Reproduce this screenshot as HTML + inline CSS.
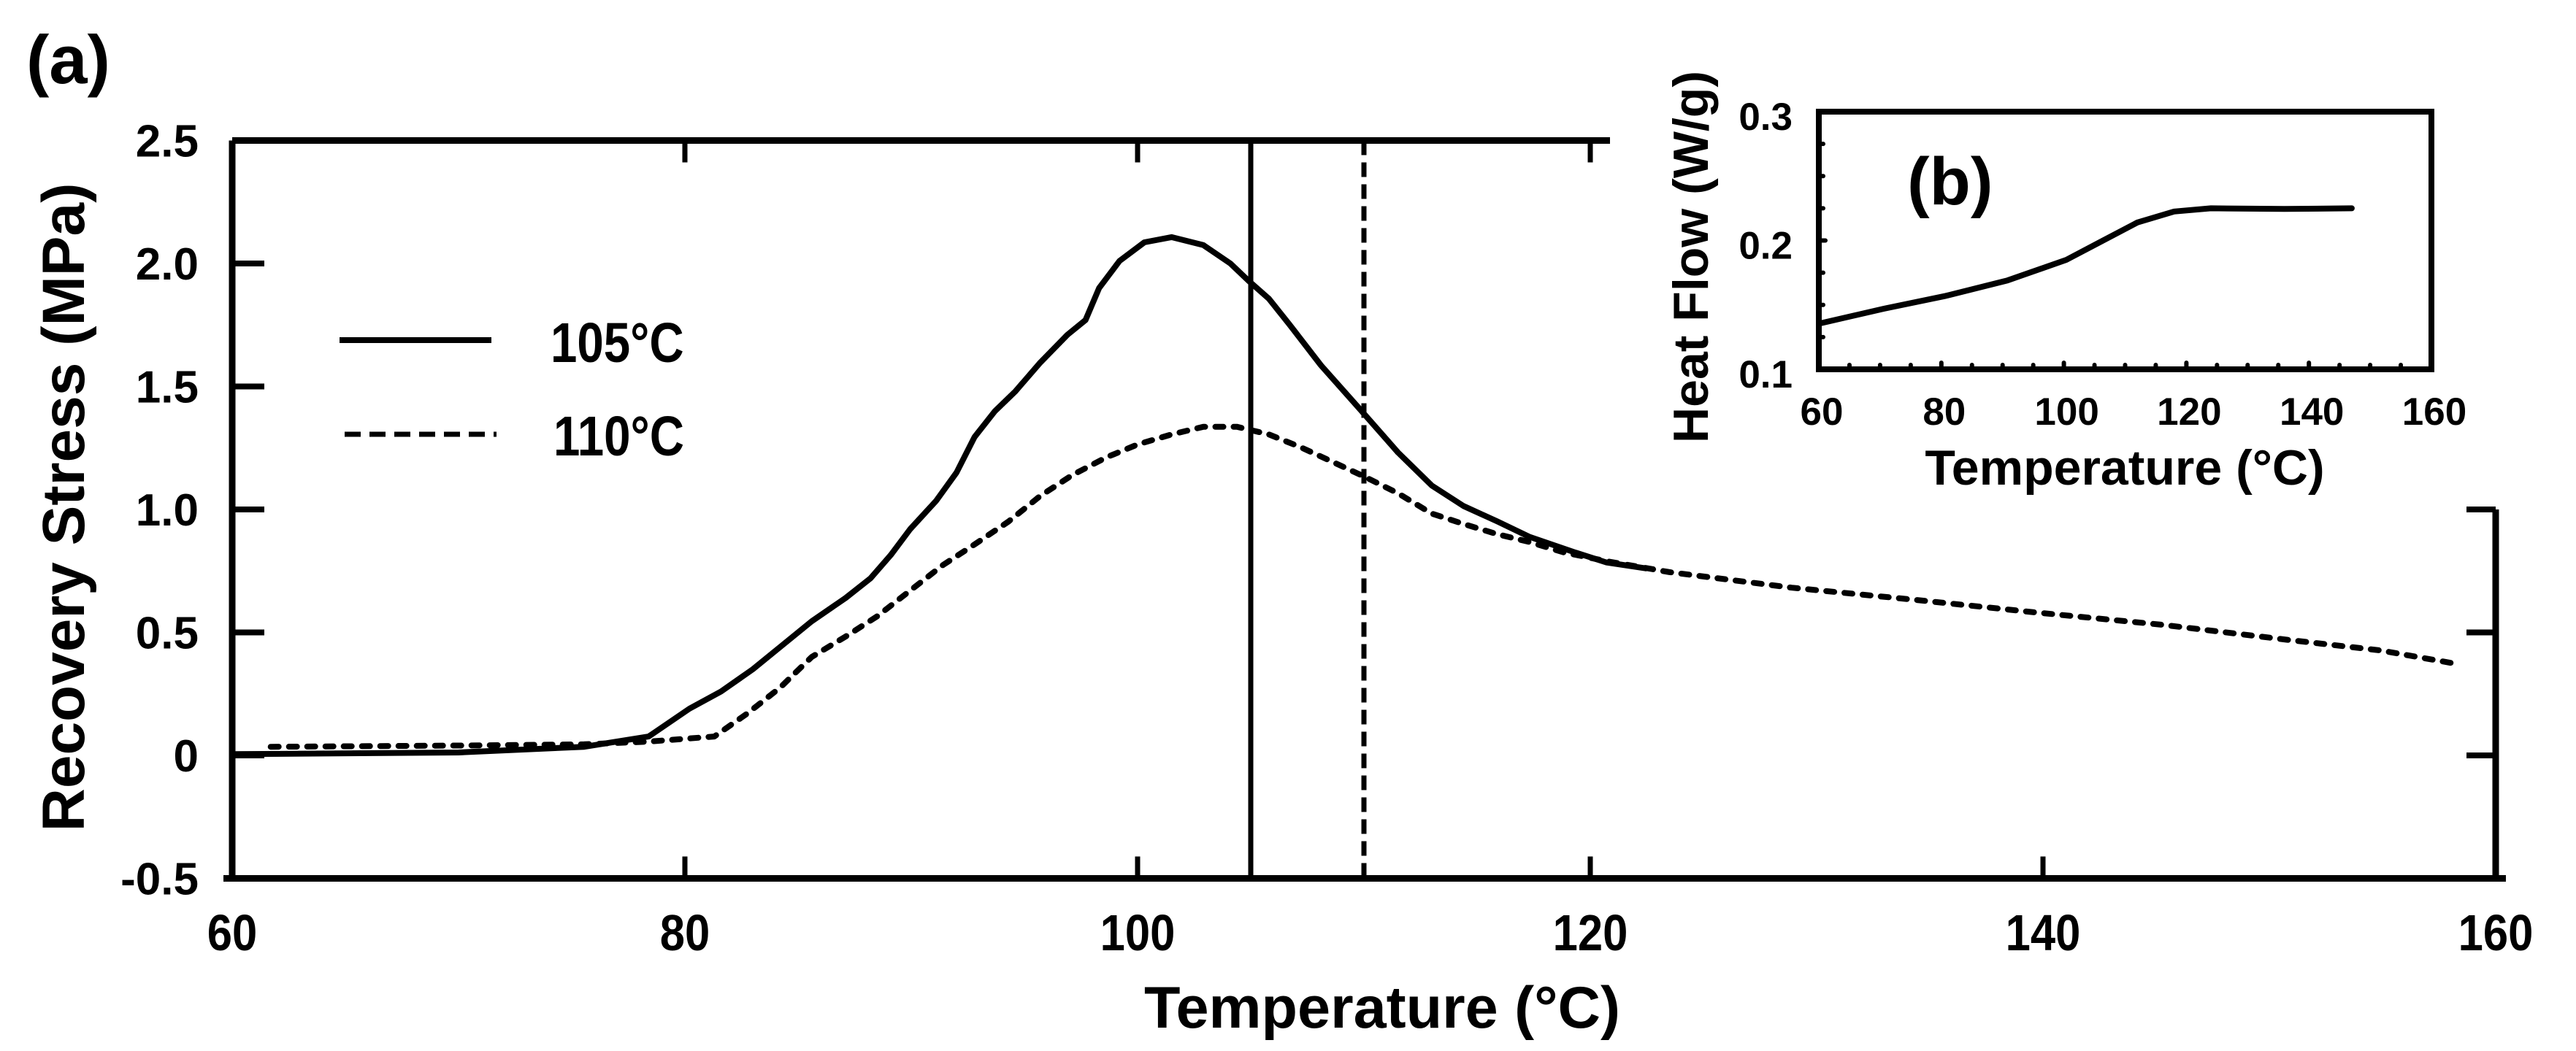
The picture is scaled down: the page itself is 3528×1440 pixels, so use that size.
<!DOCTYPE html>
<html><head><meta charset="utf-8"><style>
html,body{margin:0;padding:0;background:#fff;}
svg{display:block;font-family:"Liberation Sans",Arial,sans-serif;font-weight:bold;}
</style></head><body>
<svg id="chart" width="3528" height="1440" viewBox="0 0 3528 1440" xmlns="http://www.w3.org/2000/svg">
<g id="main"></g>
<g id="inset"></g>
</svg>
<script>
// ---- main chart data ----
const xTicks = [60, 80, 100, 120, 140, 160];
const yTicks = [-0.5, 0, 0.5, 1.0, 1.5, 2.0, 2.5];
const yTickLabels = ["-0.5", "0", "0.5", "1.0", "1.5", "2.0", "2.5"];
const seriesNames = ["105°C", "110°C"];
const solidT = [60, 70, 75.55, 78.4, 80.2, 81.6, 83.0, 84.2, 85.6, 87.1, 88.2, 89.1, 89.95, 91.1, 92.0, 92.8, 93.7, 94.6, 95.7, 96.9, 97.7, 98.3, 99.2, 100.3, 101.5, 102.9, 104.1, 104.9, 105.8, 106.7, 108.1, 109.8, 111.5, 113.0, 114.4, 115.9, 117.3, 119.3, 120.7, 122.5];
const solidV = [0.005, 0.012, 0.035, 0.077, 0.19, 0.26, 0.35, 0.44, 0.545, 0.64, 0.72, 0.815, 0.92, 1.035, 1.15, 1.295, 1.40, 1.48, 1.597, 1.71, 1.77, 1.90, 2.01, 2.086, 2.107, 2.075, 2.0, 1.93, 1.857, 1.753, 1.586, 1.41, 1.232, 1.097, 1.014, 0.951, 0.889, 0.826, 0.785, 0.76];
const dashT = [61.7, 70, 75.55, 78.4, 81.3, 82.75, 84.2, 85.6, 87.1, 88.5, 89.95, 91.4, 92.8, 94.3, 95.7, 97.1, 98.6, 100.0, 101.5, 102.9, 104.4, 105.8, 107.2, 108.7, 110.1, 111.5, 113.0, 114.4, 115.9, 117.3, 118.8, 120.7, 123.5, 128.9, 134.4, 139.8, 145.3, 150.8, 154.9, 158.4];
const dashV = [0.035, 0.04, 0.045, 0.056, 0.077, 0.17, 0.275, 0.40, 0.483, 0.566, 0.67, 0.774, 0.858, 0.951, 1.055, 1.139, 1.211, 1.264, 1.305, 1.336, 1.336, 1.305, 1.253, 1.19, 1.13, 1.066, 0.983, 0.941, 0.899, 0.868, 0.826, 0.79, 0.745, 0.682, 0.632, 0.58, 0.531, 0.47, 0.427, 0.37];
const markerTemps = [105, 110];
// ---- inset data ----
const inXTicks = [60, 80, 100, 120, 140, 160];
const inYTicks = [0.1, 0.2, 0.3];
const inYTickLabels = ["0.1", "0.2", "0.3"];
const heatT = [60.5, 70.6, 80.7, 90.8, 100.4, 106, 112, 118, 124, 136, 147];
const heatV = [0.136, 0.147, 0.157, 0.169, 0.185, 0.199, 0.214, 0.2225, 0.225, 0.2245, 0.225];

const NS = "http://www.w3.org/2000/svg";
function mk(parent, tag, attrs, text) {
  const e = document.createElementNS(NS, tag);
  for (const k in attrs) e.setAttribute(k, attrs[k]);
  if (text !== undefined) e.textContent = text;
  parent.appendChild(e);
  return e;
}
const X = t => 318 + (t - 60) * 31;
const Y = v => 1035 - v * 337;
const main = document.getElementById("main");



let e;
e = mk(main, "path", {d: `M${X(60)} ${Y(2.5)} V${Y(-0.5)} M306 ${Y(-0.5)} H3432 M${X(60)} ${Y(2.5)} H2205 M${X(160)} ${Y(1.0)} V${Y(-0.5)}`, stroke: "#000", "stroke-width": 9, fill: "none"});



xTicks.forEach((t, i) => {
  if (t > 60 && t < 160) {
    const tk = mk(main, "path", {d: `M${X(t)} ${Y(-0.5)} v-30` + (t <= 120 ? ` M${X(t)} ${Y(2.5)} v30` : ""), stroke: "#000", "stroke-width": 7});
    
    
  }
  const lb = mk(main, "text", {transform: `translate(${X(t)},1302) scale(0.88,1)`, "text-anchor": "middle", "font-size": 70}, String(t));
  
  
});
yTicks.forEach((v, i) => {
  const tk = mk(main, "path", {d: `M${X(60)} ${Y(v)} h44` + (v >= -0.01 && v <= 1.01 ? ` M${X(160)} ${Y(v)} h-40` : ""), stroke: "#000", "stroke-width": 8});
  
  
  const lb = mk(main, "text", {x: 272, y: Y(v) + 22, "text-anchor": "end", "font-size": 62}, yTickLabels[i]);
  
  
});
markerTemps.forEach((t, i) => {
  const ln = mk(main, "line", {x1: X(t), x2: X(t), y1: Y(2.5), y2: Y(-0.5), stroke: "#000", "stroke-width": 7, "stroke-dasharray": i ? "20 10" : "none"});
  
  
});
function pts(ts, vs, fx, fy) { return ts.map((t, i) => fx(t).toFixed(1) + "," + fy(vs[i]).toFixed(1)).join(" "); }
e = mk(main, "polyline", {points: pts(dashT, dashV, X, Y), fill: "none", stroke: "#000", "stroke-width": 8, "stroke-linecap": "round", "stroke-linejoin": "round", "stroke-dasharray": "11 14"});


e = mk(main, "polyline", {points: pts(solidT, solidV, X, Y), fill: "none", stroke: "#000", "stroke-width": 8, "stroke-linejoin": "round"});



const lg = mk(main, "g", {});


e = mk(lg, "line", {x1: 465, x2: 673, y1: 466, y2: 466, stroke: "#000", "stroke-width": 8});


e = mk(lg, "text", {transform: "translate(754,496) scale(0.85,1)", "font-size": 77}, seriesNames[0]);


e = mk(lg, "line", {x1: 472, x2: 680, y1: 595, y2: 595, stroke: "#000", "stroke-width": 7, "stroke-dasharray": "22 12"});


e = mk(lg, "text", {transform: "translate(758,624) scale(0.85,1)", "font-size": 77}, seriesNames[1]);



e = mk(main, "text", {x: 1893, y: 1408, "text-anchor": "middle", "font-size": 81}, "Temperature (°C)");


e = mk(main, "text", {transform: "translate(115,695) rotate(-90)", "text-anchor": "middle", "font-size": 82}, "Recovery Stress (MPa)");


e = mk(main, "text", {x: 36, y: 114, "font-size": 94}, "(a)");



const inset = document.getElementById("inset");


const IX = t => 2491 + (t - 60) * 8.39;
const IY = v => 506 - (v - 0.1) * 1765;
e = mk(inset, "rect", {x: IX(60), y: IY(0.3), width: IX(160) - IX(60), height: IY(0.1) - IY(0.3), fill: "none", stroke: "#000", "stroke-width": 8});


for (let t = 65; t < 160; t += 5) {
  const tk = mk(inset, "line", {x1: IX(t), x2: IX(t), y1: IY(0.1), y2: IY(0.1) - (t % 20 === 0 ? 9 : 6), stroke: "#000", "stroke-width": 6, "stroke-linecap": "round"});
  
  
}
for (let k = 1; k < 8; k++) {
  const v = 0.1 + k * 0.025;
  const tk = mk(inset, "line", {x1: IX(60), x2: IX(60) + (k === 4 ? 9 : 6), y1: IY(v), y2: IY(v), stroke: "#000", "stroke-width": 6, "stroke-linecap": "round"});
  
  
}
inXTicks.forEach(t => {
  const lb = mk(inset, "text", {x: IX(t) + 4, y: 582, "text-anchor": "middle", "font-size": 53}, String(t));
  
  
});
inYTicks.forEach((v, i) => {
  const lb = mk(inset, "text", {x: 2455, y: IY(v) + 25, "text-anchor": "end", "font-size": 53}, inYTickLabels[i]);
  
  
});
e = mk(inset, "polyline", {points: pts(heatT, heatV, IX, IY), fill: "none", stroke: "#000", "stroke-width": 8, "stroke-linejoin": "round", "stroke-linecap": "round"});


e = mk(inset, "text", {x: 2612, y: 280, "font-size": 92}, "(b)");


e = mk(inset, "text", {x: 2910, y: 664, "text-anchor": "middle", "font-size": 68}, "Temperature (°C)");


e = mk(inset, "text", {transform: "translate(2339,352) rotate(-90)", "text-anchor": "middle", "font-size": 68}, "Heat Flow  (W/g)");


</script>
</body></html>
